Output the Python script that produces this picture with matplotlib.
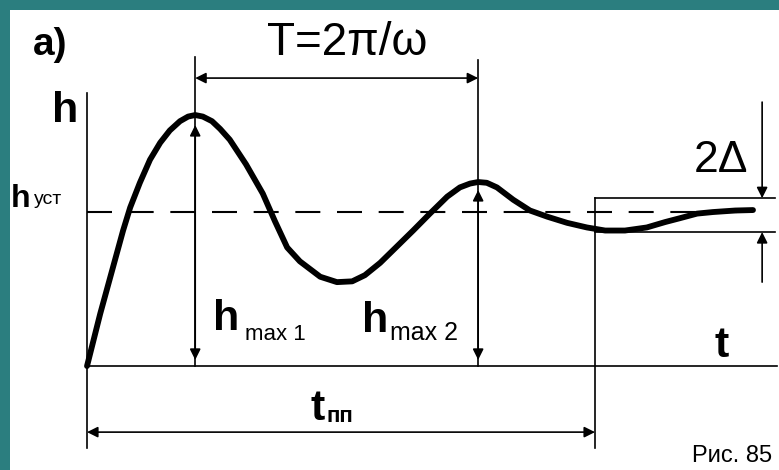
import matplotlib.pyplot as plt
from matplotlib.patches import Rectangle

# Transient response h(t): time in arbitrary units, h normalised to h_уст = 1
t_curve = [0.0, 0.26, 0.51, 0.71, 0.85, 1.04, 1.24, 1.44, 1.63, 1.83, 1.99,
           2.13, 2.28, 2.46, 2.62, 2.81, 3.13, 3.46, 3.70, 3.94, 4.19, 4.59,
           4.92, 5.22, 5.47, 5.77, 6.08, 6.42, 6.75, 7.09, 7.34, 7.54, 7.70,
           7.87, 8.07, 8.39, 8.72, 9.06, 9.45, 9.84, 10.20, 10.59, 11.02,
           11.38, 11.67, 12.01, 12.32, 12.76, 13.11]
h_curve = [0.0, 0.34, 0.64, 0.88, 1.03, 1.19, 1.34, 1.45, 1.53, 1.59, 1.62,
           1.63, 1.62, 1.59, 1.54, 1.47, 1.31, 1.12, 0.94, 0.77, 0.68, 0.58,
           0.545, 0.55, 0.59, 0.67, 0.77, 0.88, 0.99, 1.10, 1.16, 1.185, 1.195,
           1.19, 1.16, 1.08, 1.01, 0.97, 0.93, 0.90, 0.88, 0.88, 0.90,
           0.935, 0.96, 0.99, 1.00, 1.01, 1.013]

h_ust = 1.0
t_max1, h_max1 = 2.13, 1.63
t_max2, h_max2 = 7.70, 1.195
t_pp = 10.0
delta_hi, delta_lo = 1.09, 0.87

fig = plt.figure(figsize=(7.79, 4.70), dpi=100, facecolor='#2b7e7f')
ax = fig.add_axes([0, 0, 1, 1])
ax.set_xlim(-1.713, 13.622)
ax.set_ylim(-0.675, 2.377)
ax.axis('off')
ax.add_patch(Rectangle((10 / 779, 0), 769 / 779, 460 / 470, transform=ax.transAxes,
                       facecolor='white', edgecolor='none', zorder=0))

fam = ['Liberation Sans', 'DejaVu Sans']
k = dict(color='black', lw=1.2)

# axes
ax.plot([0, 0], [-0.53, 1.77], **k)
ax.plot([0, 13.58], [0, 0], **k)

# steady-state level
ax.plot([0, 13.05], [h_ust, h_ust], color='black', lw=1.5, dashes=(12, 8))

# 2Δ band
ax.plot([t_pp, 13.55], [delta_hi, delta_hi], **k)
ax.plot([t_pp, 13.55], [delta_lo, delta_lo], **k)
ax.plot([t_pp, t_pp], [-0.53, delta_hi], **k)

# response curve
ax.plot(t_curve, h_curve, color='black', lw=4.2, solid_joinstyle='round',
        solid_capstyle='round', zorder=5)

# peak verticals
ax.plot([t_max1, t_max1], [0, 2.006], **k)
ax.plot([t_max2, t_max2], [0, 1.987], **k)

arr = dict(arrowstyle='<|-|>', color='black', lw=1.2, mutation_scale=16,
           shrinkA=0, shrinkB=0)
ax.annotate('', xy=(t_max1, 1.87), xytext=(t_max2, 1.87), arrowprops=arr)
ax.annotate('', xy=(t_max1, 0.04), xytext=(t_max1, 1.565), arrowprops=arr)
ax.annotate('', xy=(t_max2, 0.04), xytext=(t_max2, 1.143), arrowprops=arr)
ax.annotate('', xy=(0, -0.429), xytext=(t_pp, -0.429), arrowprops=arr)

one = dict(arrowstyle='-|>', color='black', lw=1.2, mutation_scale=16,
           shrinkA=0, shrinkB=0)
ax.annotate('', xy=(13.29, delta_hi), xytext=(13.29, 1.714), arrowprops=one)
ax.annotate('', xy=(13.29, delta_lo), xytext=(13.29, 0.545), arrowprops=one)

# labels
ax.text(-0.73, 2.02, 'a)', fontsize=28, fontweight='bold', family=fam,
        ha='center', va='baseline')
ax.text(5.12, 2.019, 'T=2π/ω', fontsize=33, family=fam, ha='center', va='baseline')
ax.text(-0.69, 1.584, 'h', fontsize=31, fontweight='bold', family=fam, va='baseline')
ax.text(-1.50, 1.03, 'h', fontsize=23, fontweight='bold', family=fam, va='baseline')
ax.text(-1.04, 1.055, 'уст', fontsize=14, family=fam, va='baseline')
ax.text(2.48, 0.234, 'h', fontsize=31, fontweight='bold', family=fam, va='baseline')
ax.text(3.11, 0.169, 'max 1', fontsize=16, family=fam, va='baseline')
ax.text(5.41, 0.221, 'h', fontsize=31, fontweight='bold', family=fam, va='baseline')
ax.text(5.96, 0.169, 'max 2', fontsize=18, family=fam, va='baseline')
ax.text(12.36, 0.058, 't', fontsize=31, fontweight='bold', family=fam, va='baseline')
ax.text(4.39, -0.351, 't', fontsize=31, fontweight='bold', family=fam, va='baseline')
ax.text(4.72, -0.364, 'пп', fontsize=16, fontweight='bold', family=fam, va='baseline')
ax.text(13.01, 1.26, '2Δ', fontsize=32, family=fam, ha='right', va='baseline')
ax.text(11.91, -0.623, 'Рис. 85', fontsize=17, family=fam, va='baseline')

fig.savefig('out.png', dpi=100, facecolor=fig.get_facecolor())
